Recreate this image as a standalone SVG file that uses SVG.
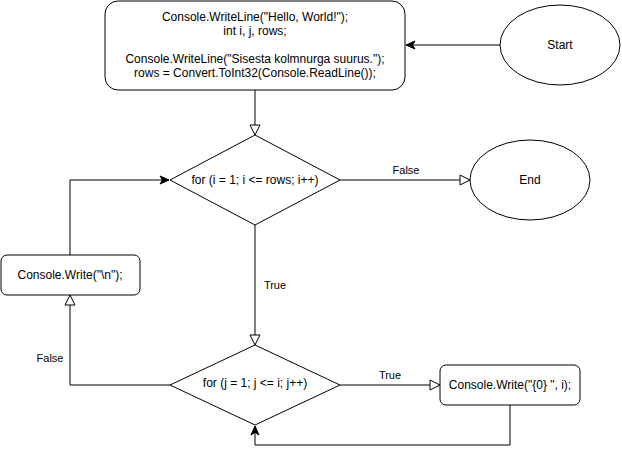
<svg xmlns="http://www.w3.org/2000/svg" width="622" height="455" viewBox="0 0 622 455">
<style>
.n{fill:#fff;stroke:#000;stroke-width:1}
.t{font-family:"Liberation Sans",Arial,sans-serif;font-size:12px;fill:#000;text-anchor:middle}
.l{font-family:"Liberation Sans",Arial,sans-serif;font-size:11px;fill:#000;text-anchor:middle}
.e{fill:none;stroke:#000;stroke-width:1}
</style>
<defs>
<marker id="open" markerUnits="userSpaceOnUse" markerWidth="12" markerHeight="12" refX="10" refY="5" orient="auto" overflow="visible">
<path d="M0,0 L10,5 L0,10 Z" fill="#fff" stroke="#000" stroke-width="1"/>
</marker>
<marker id="fill" markerUnits="userSpaceOnUse" markerWidth="12" markerHeight="12" refX="9" refY="4" orient="auto" overflow="visible">
<path d="M0,0 L9,4 L0,8 L2.5,4 Z" fill="#000" stroke="#000" stroke-width="1"/>
</marker>
</defs>
<g id="connectors">
<path class="e" d="M500,45 L406,45" marker-end="url(#fill)"/>
<path class="e" d="M255,90 L255,135" marker-end="url(#open)"/>
<path class="e" d="M340,180 L470,180" marker-end="url(#open)"/>
<text class="l" x="406" y="174">False</text>
<path class="e" d="M255,225 L255,345" marker-end="url(#open)"/>
<text class="l" x="275" y="289">True</text>
<path class="e" d="M340,385 L440,385" marker-end="url(#open)"/>
<text class="l" x="390" y="379">True</text>
<path class="e" d="M510,405 L510,445 L255,445 L255,426" marker-end="url(#fill)"/>
<path class="e" d="M170,385 L70,385 L70,295" marker-end="url(#open)"/>
<text class="l" x="50" y="362">False</text>
<path class="e" d="M70,255 L70,180 L169,180" marker-end="url(#fill)"/>
</g>
<g id="init">
<rect class="n" x="105" y="1" width="300" height="89" rx="13" ry="13"/>
<text class="t" x="255" y="21">Console.WriteLine("Hello, World!");</text>
<text class="t" x="255" y="35">int i, j, rows;</text>
<text class="t" x="255" y="63">Console.WriteLine("Sisesta kolmnurga suurus.");</text>
<text class="t" x="255" y="77">rows = Convert.ToInt32(Console.ReadLine());</text>
</g>
<g id="start">
<ellipse class="n" cx="560" cy="45" rx="60" ry="40"/>
<text class="t" x="560" y="49">Start</text>
</g>
<g id="loopI">
<path class="n" d="M255,135 L340,180 L255,225 L170,180 Z"/>
<text class="t" x="255" y="184">for (i = 1; i &lt;= rows; i++)</text>
</g>
<g id="end">
<ellipse class="n" cx="530" cy="180" rx="60" ry="40"/>
<text class="t" x="530" y="184">End</text>
</g>
<g id="newline">
<rect class="n" x="1" y="255" width="139" height="40" rx="6" ry="6"/>
<text class="t" x="70" y="279">Console.Write("\n");</text>
</g>
<g id="loopJ">
<path class="n" d="M255,345 L340,385 L255,425 L170,385 Z"/>
<text class="t" x="255" y="387">for (j = 1; j &lt;= i; j++)</text>
</g>
<g id="write">
<rect class="n" x="440" y="365" width="140" height="40" rx="6" ry="6"/>
<text class="t" x="510" y="389">Console.Write("{0} ", i);</text>
</g>
</svg>
